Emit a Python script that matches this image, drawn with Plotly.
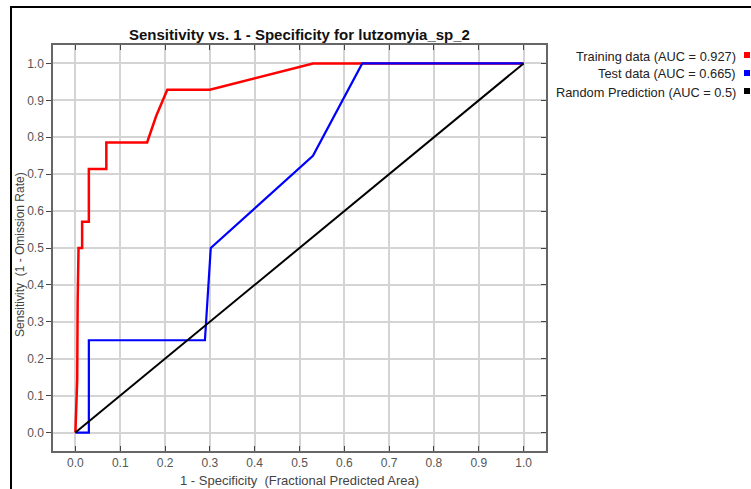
import plotly.graph_objects as go

# ROC curve data for lutzomyia_sp_2
train_x = [0.0, 0.004, 0.005, 0.007, 0.015, 0.015, 0.03, 0.03, 0.069, 0.069, 0.16, 0.18, 0.205, 0.30, 0.53, 1.0]
train_y = [0.0, 0.143, 0.357, 0.5, 0.5, 0.571, 0.571, 0.714, 0.714, 0.786, 0.786, 0.857, 0.929, 0.929, 1.0, 1.0]

test_x = [0.0, 0.03, 0.03, 0.289, 0.302, 0.53, 0.64, 1.0]
test_y = [0.0, 0.0, 0.25, 0.25, 0.5, 0.75, 1.0, 1.0]

random_x = [0.0, 1.0]
random_y = [0.0, 1.0]

series_names = ["Training data (AUC = 0.927)", "Test data (AUC = 0.665)", "Random Prediction (AUC = 0.5)"]
series_colors = ["#ff0000", "#0000ff", "#000000"]

tick_vals = [round(i * 0.1, 1) for i in range(11)]
tick_text = [f"{v:.1f}" for v in tick_vals]

W, H = 751, 489
L, R, T, B = 53, 546, 45, 451  # plot area in pixels


def px(p):
    return (p - L) / (R - L)


def py(p):
    return (B - p) / (B - T)


fig = go.Figure()
fig.add_trace(go.Scatter(x=train_x, y=train_y, mode="lines",
                         line=dict(color=series_colors[0], width=2.5), name=series_names[0]))
fig.add_trace(go.Scatter(x=test_x, y=test_y, mode="lines",
                         line=dict(color=series_colors[1], width=2.2), name=series_names[1]))
fig.add_trace(go.Scatter(x=random_x, y=random_y, mode="lines",
                         line=dict(color=series_colors[2], width=2), name=series_names[2]))
# invisible trace to drive the right-hand axis ticks
fig.add_trace(go.Scatter(x=[0], y=[0], yaxis="y2", mode="markers",
                         marker=dict(opacity=0), showlegend=False, hoverinfo="skip"))

axis_font = dict(family="Liberation Sans, Arial, sans-serif", size=12, color="#555555")

fig.update_layout(
    width=W, height=H,
    margin=dict(l=L, r=W - R, t=T, b=H - B),
    paper_bgcolor="white", plot_bgcolor="white",
    showlegend=False,
    font=dict(family="Liberation Sans, Arial, sans-serif"),
    xaxis=dict(range=[-0.05, 1.05], tickvals=tick_vals, ticktext=tick_text,
               ticks="inside", ticklen=5, tickcolor="#444444", tickwidth=1,
               mirror="ticks", showline=True, linecolor="#666666", linewidth=1.5,
               showgrid=True, gridcolor="#d4d4d4", gridwidth=1.5, zeroline=False,
               tickfont=axis_font),
    yaxis=dict(range=[-0.05, 1.05], tickvals=tick_vals, ticktext=tick_text,
               ticks="outside", ticklen=5, tickcolor="#444444", tickwidth=1,
               mirror=True, showline=True, linecolor="#666666", linewidth=1.5,
               showgrid=True, gridcolor="#d4d4d4", gridwidth=1.5, zeroline=False,
               tickfont=axis_font),
    yaxis2=dict(range=[-0.05, 1.05], tickvals=tick_vals, overlaying="y", side="right",
                ticks="inside", ticklen=5, tickcolor="#444444", tickwidth=1,
                showticklabels=False, showgrid=False, zeroline=False, showline=False),
)

annotations = [
    dict(text="<b>Sensitivity vs. 1 - Specificity for lutzomyia_sp_2</b>",
         x=px(299), y=py(34), xref="paper", yref="paper", showarrow=False,
         xanchor="center", yanchor="middle",
         font=dict(size=15, color="#111111")),
    dict(text="Sensitivity  (1 - Omission Rate)", textangle=-90,
         x=px(20), y=py(255), xref="paper", yref="paper", showarrow=False,
         xanchor="center", yanchor="middle",
         font=dict(size=12, color="#444444")),
    dict(text="1 - Specificity  (Fractional Predicted Area)",
         x=px(299), y=py(480), xref="paper", yref="paper", showarrow=False,
         xanchor="center", yanchor="middle",
         font=dict(size=13, color="#444444")),
]

shapes = [
    # outer frame
    dict(type="rect", xref="paper", yref="paper",
         x0=px(11), x1=px(770), y0=py(7), y1=py(520),
         line=dict(color="black", width=2), fillcolor="rgba(0,0,0,0)", layer="above"),
]

legend_rows = [56, 74, 92]
for name, color, yrow in zip(series_names, series_colors, legend_rows):
    annotations.append(dict(text=name, x=px(738), y=py(yrow), xref="paper", yref="paper",
                            showarrow=False, xanchor="right", yanchor="middle",
                            font=dict(size=12.8, color="#222222")))
    shapes.append(dict(type="rect", xref="paper", yref="paper",
                       x0=px(744), x1=px(750), y0=py(yrow - 4), y1=py(yrow + 2),
                       line=dict(width=0), fillcolor=color))

fig.update_layout(annotations=annotations, shapes=shapes)

fig.write_html("out.html")
